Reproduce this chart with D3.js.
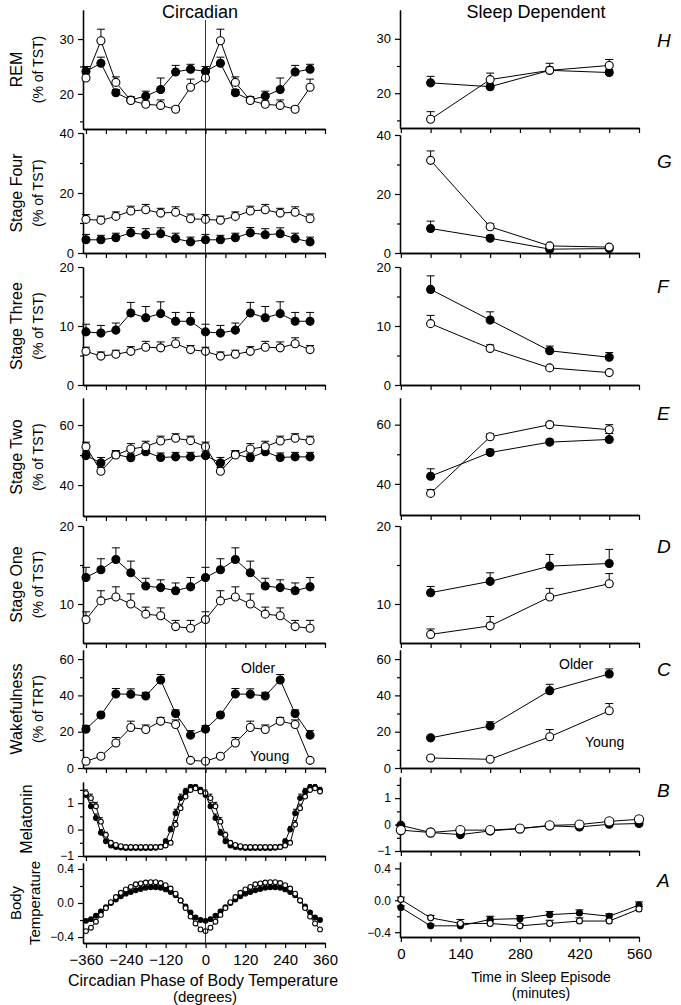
<!DOCTYPE html>
<html>
<head>
<meta charset="utf-8">
<script src="https://cdn.jsdelivr.net/npm/d3@7"></script>
<style>
body { margin: 0; background: #fff; }
svg { display: block; }
text { font-family: "Liberation Sans", Arial, sans-serif; fill: #000; }
</style>
</head>
<body>
<svg id="fig" width="681" height="1005"></svg>
<script>
// circadian bins (degrees), plotted twice
var circPhase = [0, 45, 90, 135, 180, 225, 270, 315];
var fineStep = [0, 15, 30, 45, 60, 75, 90, 105, 120, 135, 150, 165, 180, 195, 210, 225, 240, 255, 270, 285, 300, 315, 330, 345];
// sleep episode quarters (minutes)
var sleepTime = [70, 210, 350, 490];
var sleepFine = [0, 70, 140, 210, 280, 350, 420, 490, 560];

var circTicks = [-360, -240, -120, 0, 120, 240, 360];
var circMinor = [-300, -180, -60, 60, 180, 300];
var sleepTicks = [0, 140, 280, 420, 560];
var sleepMinor = [70, 210, 350, 490];

// REM
var remOldC = [24.1, 25.6, 20.2, 18.9, 19.6, 20.8, 24.0, 24.5];
var remOldCErr = [0.9, 1.1, 0.6, 0.6, 0.9, 2.1, 1.2, 0.9];
var remYoungC = [22.9, 29.7, 22.1, 18.8, 18.1, 17.9, 17.2, 21.2];
var remYoungCErr = [1.2, 2.1, 1.0, 0.4, 0.6, 1.0, 0.5, 1.5];
var remOldS = [21.9, 21.2, 24.2, 23.8];
var remOldSErr = [1.2, 0.5, 0.6, 0.5];
var remYoungS = [15.2, 22.5, 24.2, 25.1];
var remYoungSErr = [1.4, 1.2, 1.3, 1.1];

// Stage Four
var s4OldC = [4.4, 4.4, 5.1, 6.7, 6.1, 6.4, 4.8, 3.7];
var s4OldCErr = [1.8, 1.5, 1.5, 1.8, 2.0, 2.0, 1.8, 1.6];
var s4YoungC = [11.2, 10.9, 12.2, 14.0, 14.4, 13.3, 13.6, 11.4];
var s4YoungCErr = [1.6, 1.4, 1.5, 1.6, 1.8, 1.6, 1.8, 1.6];
var s4OldS = [8.3, 5.0, 1.3, 1.5];
var s4OldSErr = [2.5, 1.0, 0.4, 0.4];
var s4YoungS = [31.4, 8.9, 2.4, 2.0];
var s4YoungSErr = [3.2, 1.0, 0.5, 0.4];

// Stage Three
var s3OldC = [9.0, 8.8, 9.3, 12.2, 11.4, 12.1, 10.8, 10.8];
var s3OldCErr = [1.3, 1.3, 1.2, 1.8, 1.9, 2.0, 1.5, 1.5];
var s3YoungC = [5.7, 4.9, 5.2, 5.7, 6.4, 6.3, 7.0, 6.0];
var s3YoungCErr = [0.7, 0.7, 0.7, 0.8, 1.0, 1.0, 1.0, 0.7];
var s3OldS = [16.2, 11.0, 5.8, 4.7];
var s3OldSErr = [2.3, 1.4, 0.8, 0.8];
var s3YoungS = [10.4, 6.2, 2.9, 2.1];
var s3YoungSErr = [1.4, 0.6, 0.3, 0.3];

// Stage Two
var s2OldC = [49.8, 47.4, 50.2, 49.1, 51.1, 49.2, 49.4, 49.4];
var s2OldCErr = [1.5, 1.8, 1.3, 1.3, 1.3, 1.5, 1.5, 1.5];
var s2YoungC = [52.8, 44.6, 50.0, 52.0, 52.8, 54.7, 55.6, 54.8];
var s2YoungCErr = [1.5, 1.3, 1.3, 1.8, 1.8, 1.6, 1.5, 1.5];
var s2OldS = [42.6, 50.6, 54.1, 55.0];
var s2OldSErr = [2.5, 1.1, 1.0, 2.0];
var s2YoungS = [36.8, 55.9, 60.0, 58.3];
var s2YoungSErr = [1.3, 1.0, 0.8, 1.7];

// Stage One
var s1OldC = [13.4, 14.4, 15.7, 14.0, 12.3, 12.1, 11.7, 12.2];
var s1OldCErr = [1.3, 1.4, 1.5, 1.5, 1.0, 1.0, 1.0, 1.2];
var s1YoungC = [8.0, 10.4, 10.9, 10.0, 8.7, 8.5, 7.1, 6.9];
var s1YoungCErr = [1.0, 1.3, 1.3, 1.3, 0.9, 1.0, 0.8, 1.0];
var s1OldS = [11.45, 12.9, 14.85, 15.2];
var s1OldSErr = [0.8, 1.1, 1.5, 1.8];
var s1YoungS = [6.1, 7.2, 10.9, 12.6];
var s1YoungSErr = [0.7, 1.2, 1.1, 1.3];

// Wakefulness
var wakeOldC = [21.4, 29.2, 40.8, 40.6, 39.7, 48.5, 30.0, 18.1];
var wakeOldCErr = [2.0, 1.5, 3.0, 3.0, 2.0, 3.0, 2.0, 2.5];
var wakeYoungC = [3.7, 6.5, 13.8, 22.3, 21.2, 25.8, 24.0, 4.2];
var wakeYoungCErr = [1.0, 1.2, 3.0, 3.5, 2.5, 2.0, 2.5, 1.0];
var wakeOldS = [16.6, 23.1, 42.6, 51.8];
var wakeOldSErr = [1.0, 2.4, 3.5, 2.8];
var wakeYoungS = [5.5, 4.8, 17.2, 31.5];
var wakeYoungSErr = [0.5, 0.5, 4.0, 4.0];

// Melatonin
var melOldC = [1.31, 0.88, 0.44, -0.12, -0.44, -0.6, -0.66, -0.68, -0.7, -0.7, -0.7, -0.7, -0.7, -0.7, -0.69, -0.65, -0.44, 0.0, 0.62, 1.19, 1.44, 1.6, 1.6, 1.5];
var melOldCErr = [0.12, 0.15, 0.15, 0.12, 0.08, 0.05, 0.04, 0.04, 0.04, 0.04, 0.04, 0.04, 0.04, 0.04, 0.04, 0.05, 0.08, 0.12, 0.15, 0.15, 0.12, 0.1, 0.1, 0.1];
var melYoungC = [1.38, 1.19, 0.88, 0.3, -0.2, -0.5, -0.58, -0.63, -0.66, -0.66, -0.66, -0.66, -0.66, -0.66, -0.66, -0.66, -0.6, -0.5, 0.19, 0.81, 1.25, 1.5, 1.56, 1.44];
var melYoungCErr = [0.12, 0.15, 0.15, 0.15, 0.1, 0.06, 0.04, 0.04, 0.04, 0.04, 0.04, 0.04, 0.04, 0.04, 0.04, 0.04, 0.05, 0.08, 0.15, 0.15, 0.12, 0.1, 0.1, 0.1];
var melOldS = [-0.03, -0.3, -0.38, -0.24, -0.15, -0.05, -0.09, 0.01, 0.04];
var melYoungS = [-0.21, -0.3, -0.21, -0.21, -0.15, -0.03, 0.0, 0.12, 0.2];

// Body temperature
var tempOldC = [-0.21, -0.19, -0.15, -0.1, -0.05, 0.0, 0.04, 0.08, 0.11, 0.13, 0.15, 0.165, 0.18, 0.185, 0.185, 0.18, 0.16, 0.13, 0.09, 0.03, -0.04, -0.11, -0.17, -0.2];
var tempYoungC = [-0.33, -0.29, -0.22, -0.14, -0.06, 0.01, 0.07, 0.12, 0.16, 0.19, 0.22, 0.23, 0.24, 0.245, 0.245, 0.235, 0.21, 0.17, 0.11, 0.03, -0.06, -0.16, -0.24, -0.31];
var tempOldS = [-0.09, -0.32, -0.32, -0.24, -0.23, -0.18, -0.16, -0.2, -0.06];
var tempOldSErr = [0.02, 0.02, 0.02, 0.04, 0.04, 0.04, 0.04, 0.03, 0.04];
var tempYoungS = [0.01, -0.22, -0.29, -0.29, -0.32, -0.29, -0.26, -0.26, -0.11];
var tempYoungSErr = [0.03, 0.03, 0.05, 0.03, 0.02, 0.04, 0.04, 0.02, 0.03];

var svg = d3.select("#fig");
svg.append("rect").attr("width", 681).attr("height", 1005).attr("fill", "#fff");

var xCirc = d3.scaleLinear().domain([-369, 360]).range([83, 325]);
var xSleep = d3.scaleLinear().domain([-2, 560]).range([400, 639]);

function twice(a) { return a.concat(a); }
function twiceX(p) { return p.map(function(d) { return d - 360; }).concat(p); }

var leftPanels = [
  { lab: ["REM", "(% of TST)"], dom: [13.6, 35.3], rng: [129, 10], major: [20, 30], minor: [15, 25],
    xs: circPhase, old: remOldC, oldE: remOldCErr, yng: remYoungC, yngE: remYoungCErr, r: 4 },
  { lab: ["Stage Four", "(% of TST)"], dom: [0, 40], rng: [253, 133], major: [0, 20, 40], minor: [10, 30],
    xs: circPhase, old: s4OldC, oldE: s4OldCErr, yng: s4YoungC, yngE: s4YoungCErr, r: 4 },
  { lab: ["Stage Three", "(% of TST)"], dom: [0, 20], rng: [385, 267], major: [0, 10, 20], minor: [5, 15],
    xs: circPhase, old: s3OldC, oldE: s3OldCErr, yng: s3YoungC, yngE: s3YoungCErr, r: 4 },
  { lab: ["Stage Two", "(% of TST)"], dom: [29.7, 69], rng: [516, 398], major: [40, 60], minor: [50],
    xs: circPhase, old: s2OldC, oldE: s2OldCErr, yng: s2YoungC, yngE: s2YoungCErr, r: 4 },
  { lab: ["Stage One", "(% of TST)"], dom: [5, 20], rng: [643, 526], major: [10, 20], minor: [15],
    xs: circPhase, old: s1OldC, oldE: s1OldCErr, yng: s1YoungC, yngE: s1YoungCErr, r: 4 },
  { lab: ["Wakefulness", "(% of TRT)"], dom: [0, 65], rng: [768, 650], major: [0, 20, 40, 60], minor: [10, 30, 50],
    xs: circPhase, old: wakeOldC, oldE: wakeOldCErr, yng: wakeYoungC, yngE: wakeYoungCErr, r: 4 },
  { lab: ["Melatonin"], dom: [-1, 1.8], rng: [856, 782], major: [-1, 0, 1], minor: [-0.5, 0.5, 1.5], fmt: d3.format("d"), fs: 12,
    xs: fineStep, old: melOldC, oldE: melOldCErr, yng: melYoungC, yngE: melYoungCErr, r: 2.4 },
  { lab: ["Body", "Temperature"], dom: [-0.47, 0.47], rng: [943, 863], major: [-0.4, 0, 0.4], minor: [-0.2, 0.2], fmt: d3.format(".1f"), fs: 12,
    xs: fineStep, old: tempOldC, oldE: null, yng: tempYoungC, yngE: null, r: 2.4, last: true }
];

var rightPanels = [
  { letter: "H", ly: 47, dom: [13.6, 35.3], rng: [128, 10], major: [20, 30], minor: [15, 25],
    xs: sleepTime, old: remOldS, oldE: remOldSErr, yng: remYoungS, yngE: remYoungSErr, r: 4 },
  { letter: "G", ly: 168, dom: [0, 40], rng: [253, 135], major: [0, 20, 40], minor: [10, 30],
    xs: sleepTime, old: s4OldS, oldE: s4OldSErr, yng: s4YoungS, yngE: s4YoungSErr, r: 4 },
  { letter: "F", ly: 293, dom: [0, 20], rng: [385, 267], major: [0, 10, 20], minor: [5, 15],
    xs: sleepTime, old: s3OldS, oldE: s3OldSErr, yng: s3YoungS, yngE: s3YoungSErr, r: 4 },
  { letter: "E", ly: 420, dom: [29.5, 69], rng: [515, 398], major: [40, 60], minor: [50],
    xs: sleepTime, old: s2OldS, oldE: s2OldSErr, yng: s2YoungS, yngE: s2YoungSErr, r: 4 },
  { letter: "D", ly: 553, dom: [5, 20], rng: [643, 526], major: [10, 20], minor: [15],
    xs: sleepTime, old: s1OldS, oldE: s1OldSErr, yng: s1YoungS, yngE: s1YoungSErr, r: 4 },
  { letter: "C", ly: 676, dom: [0, 65], rng: [768, 650], major: [0, 20, 40, 60], minor: [10, 30, 50],
    xs: sleepTime, old: wakeOldS, oldE: wakeOldSErr, yng: wakeYoungS, yngE: wakeYoungSErr, r: 4 },
  { letter: "B", ly: 797, dom: [-1, 1.8], rng: [851, 777], major: [-1, 0, 1], minor: [-0.5, 0.5, 1.5], fmt: d3.format("d"), fs: 12,
    xs: sleepFine, old: melOldS, oldE: null, yng: melYoungS, yngE: null, r: 4, rY: 4.6 },
  { letter: "A", ly: 887, dom: [-0.46, 0.48], rng: [937, 862], major: [-0.4, 0, 0.4], minor: [-0.2, 0.2], fmt: d3.format(".1f"), fs: 12,
    xs: sleepFine, old: tempOldS, oldE: tempOldSErr, yng: tempYoungS, yngE: tempYoungSErr, r: 3, last: true }
];

function drawPanel(p, x, xTicks, xMinor, circ) {
  var y = d3.scaleLinear().domain(p.dom).range(p.rng);
  var g = svg.append("g");
  var x0 = x.range()[0];

  // y axis
  var ya = g.append("g").attr("transform", "translate(" + x0 + ",0)")
    .call(d3.axisLeft(y).tickValues(p.major).tickSize(5).tickSizeOuter(0).tickPadding(4)
      .tickFormat(p.fmt || d3.format("d")));
  g.append("g").attr("transform", "translate(" + x0 + ",0)")
    .call(d3.axisLeft(y).tickValues(p.minor).tickSize(3).tickSizeOuter(0).tickFormat(""));

  // x axis
  var xa = g.append("g").attr("transform", "translate(0," + p.rng[0] + ")")
    .call(d3.axisBottom(x).tickValues(xTicks).tickSize(5).tickSizeOuter(0).tickPadding(6)
      .tickFormat(p.last ? d3.format("d") : ""));
  g.append("g").attr("transform", "translate(0," + p.rng[0] + ")")
    .call(d3.axisBottom(x).tickValues(xMinor).tickSize(5).tickSizeOuter(0).tickFormat(""));

  g.selectAll(".domain").attr("stroke", "#000").attr("stroke-width", 1.3);
  g.selectAll(".tick line").attr("stroke", "#000").attr("stroke-width", 1.2);
  g.selectAll(".tick text").style("font-family", "'Liberation Sans', Arial, sans-serif").attr("fill", "#000");
  ya.selectAll(".tick text").style("font-size", (p.fs || 13) + "px");
  if (p.last) xa.selectAll(".tick text").style("font-size", "15px");

  var xs = circ ? twiceX(p.xs) : p.xs;
  var groups = [
    { v: p.old, e: p.oldE, fill: "#000", r: p.r },
    { v: p.yng, e: p.yngE, fill: "#fff", r: p.rY || p.r }
  ];
  var line = d3.line().x(function(d) { return x(d[0]); }).y(function(d) { return y(d[1]); });

  groups.forEach(function(s) {
    var vals = circ ? twice(s.v) : s.v;
    var errs = s.e ? (circ ? twice(s.e) : s.e) : null;
    var pts = xs.map(function(d, i) { return [d, vals[i], errs ? errs[i] : 0]; });
    g.append("path").datum(pts).attr("d", line)
      .attr("fill", "none").attr("stroke", "#000").attr("stroke-width", 1);
    if (errs) {
      var eb = g.append("g").attr("stroke", "#000").attr("stroke-width", 1);
      eb.selectAll("line.v").data(pts).enter().append("line")
        .attr("x1", function(d) { return x(d[0]); }).attr("x2", function(d) { return x(d[0]); })
        .attr("y1", function(d) { return y(d[1]); }).attr("y2", function(d) { return y(d[1] + d[2]); });
      var cw = s.r < 3 ? 2 : 4;
      eb.selectAll("line.c").data(pts).enter().append("line")
        .attr("x1", function(d) { return x(d[0]) - cw; }).attr("x2", function(d) { return x(d[0]) + cw; })
        .attr("y1", function(d) { return y(d[1] + d[2]); }).attr("y2", function(d) { return y(d[1] + d[2]); });
    }
    s.pts = pts;
  });
  groups.forEach(function(s) {
    g.selectAll(null).data(s.pts).enter().append("circle")
      .attr("cx", function(d) { return x(d[0]); })
      .attr("cy", function(d) { return y(d[1]); })
      .attr("r", s.r)
      .attr("fill", s.fill).attr("stroke", "#000").attr("stroke-width", 1.1);
  });
  return y;
}

leftPanels.forEach(function(p) {
  drawPanel(p, xCirc, circTicks, circMinor, true);
  var cy = (p.rng[0] + p.rng[1]) / 2;
  if (p.lab.length === 1) {
    svg.append("text").attr("transform", "translate(32," + cy + ") rotate(-90)")
      .attr("text-anchor", "middle").style("font-size", "16px").text(p.lab[0]);
  } else {
    var big = p.lab[0] === "Body";
    svg.append("text").attr("transform", "translate(" + (big ? 21 : 22) + "," + cy + ") rotate(-90)")
      .attr("text-anchor", "middle").style("font-size", big ? "15px" : "16px").text(p.lab[0]);
    svg.append("text").attr("transform", "translate(" + (big ? 40 : 43) + "," + cy + ") rotate(-90)")
      .attr("text-anchor", "middle").style("font-size", big ? "15px" : "14px").text(p.lab[1]);
  }
});

rightPanels.forEach(function(p) {
  drawPanel(p, xSleep, sleepTicks, sleepMinor, false);
  svg.append("text").attr("x", 657).attr("y", p.ly)
    .style("font-size", "19px").style("font-style", "italic").text(p.letter);
});

// zero-phase reference line
svg.append("line").attr("x1", xCirc(0)).attr("x2", xCirc(0)).attr("y1", 20).attr("y2", 943)
  .attr("stroke", "#000").attr("stroke-width", 0.8);

// titles
svg.append("text").attr("x", 200).attr("y", 18).attr("text-anchor", "middle")
  .style("font-size", "18px").text("Circadian");
svg.append("text").attr("x", 536).attr("y", 18).attr("text-anchor", "middle")
  .style("font-size", "18px").text("Sleep Dependent");

svg.append("text").attr("x", 203).attr("y", 986).attr("text-anchor", "middle")
  .style("font-size", "16px").text("Circadian Phase of Body Temperature");
svg.append("text").attr("x", 205).attr("y", 1002).attr("text-anchor", "middle")
  .style("font-size", "15px").text("(degrees)");
svg.append("text").attr("x", 541).attr("y", 982).attr("text-anchor", "middle")
  .style("font-size", "14px").text("Time in Sleep Episode");
svg.append("text").attr("x", 541).attr("y", 998).attr("text-anchor", "middle")
  .style("font-size", "14px").text("(minutes)");

// group labels
svg.append("text").attr("x", 241).attr("y", 673).style("font-size", "14px").text("Older");
svg.append("text").attr("x", 250).attr("y", 761).style("font-size", "14px").text("Young");
svg.append("text").attr("x", 559).attr("y", 669).style("font-size", "14px").text("Older");
svg.append("text").attr("x", 585).attr("y", 747).style("font-size", "14px").text("Young");
</script>
</body>
</html>
